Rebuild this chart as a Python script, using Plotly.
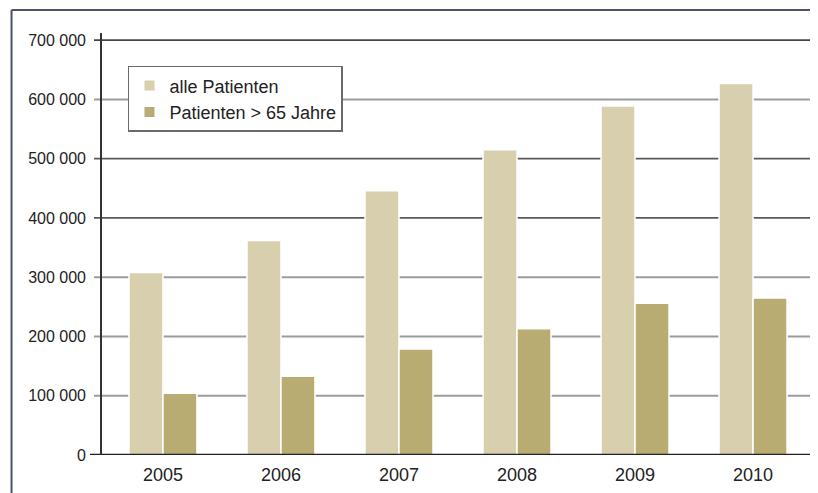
import plotly.graph_objects as go

years = ["2005", "2006", "2007", "2008", "2009", "2010"]
alle_patienten = [308000, 362000, 446000, 515000, 589000, 627000]
patienten_65 = [104000, 133000, 179000, 213000, 256000, 265000]
series_names = ["alle Patienten", "Patienten > 65 Jahre"]
y_tickvals = [0, 100000, 200000, 300000, 400000, 500000, 600000, 700000]
y_ticktext = ["0", "100 000", "200 000", "300 000", "400 000", "500 000", "600 000", "700 000"]

light = "#D8CFAF"
dark = "#B9AC72"
font_family = "Liberation Sans, Arial, sans-serif"

fig = go.Figure()
fig.add_trace(go.Bar(x=years, y=alle_patienten, name=series_names[0],
                     marker=dict(color=light, line=dict(color="white", width=1.5))))
fig.add_trace(go.Bar(x=years, y=patienten_65, name=series_names[1],
                     marker=dict(color=dark, line=dict(color="white", width=1.5))))

grid_colors = {0: None, 100000: "#9c9c9c", 200000: "#9c9c9c", 300000: "#9c9c9c",
               400000: "#5a5a5a", 500000: "#5a5a5a", 600000: "#9c9c9c", 700000: "#444444"}
shapes = []
for v in y_tickvals:
    c = grid_colors.get(v)
    if c is None:
        continue
    shapes.append(dict(type="line", xref="x domain", yref="y", x0=-0.0098, x1=1.0,
                       y0=v, y1=v, line=dict(color=c, width=2 if c == "#9c9c9c" else 1.6),
                       layer="below"))
# y axis line
shapes.append(dict(type="line", xref="x domain", yref="y domain", x0=0, x1=0, y0=0, y1=1,
                   line=dict(color="#333333", width=2), layer="above"))
# x axis line
shapes.append(dict(type="line", xref="x domain", yref="y", x0=-0.0154, x1=1.0, y0=0, y1=0,
                   line=dict(color="#222222", width=2.5), layer="above"))
# outer frame
shapes.append(dict(type="line", xref="paper", yref="paper", x0=-0.1253, x1=-0.1253, y0=-0.2, y1=1.0545,
                   line=dict(color="#4b5467", width=2)))
shapes.append(dict(type="line", xref="paper", yref="paper", x0=-0.1253, x1=1.2, y0=1.0545, y1=1.0545,
                   line=dict(color="#4b5467", width=2)))

fig.update_layout(
    width=810, height=485,
    margin=dict(l=93, r=3, t=25, b=38),
    paper_bgcolor="white", plot_bgcolor="white",
    barmode="group", bargap=0.424, bargroupgap=0,
    font=dict(family=font_family, color="#222222"),
    shapes=shapes,
    showlegend=True,
    legend=dict(x=0.0378, y=0.922, xanchor="left", yanchor="top",
                bgcolor="white", bordercolor="#6a6a6a", borderwidth=1.5,
                font=dict(size=18, color="#222222", family=font_family),
                tracegroupgap=0, itemsizing="constant"),
    xaxis=dict(type="category", range=[-0.525, 5.525], showgrid=False, showline=False,
               zeroline=False, ticks="", tickfont=dict(size=18, color="#222222"),
               ticklabelstandoff=7),
    yaxis=dict(range=[0, 712000], tickvals=y_tickvals, ticktext=y_ticktext,
               showgrid=False, showline=False, zeroline=False, ticks="",
               tickfont=dict(size=16, color="#222222"), ticklabelstandoff=14),
)

fig.write_html("out.html")
